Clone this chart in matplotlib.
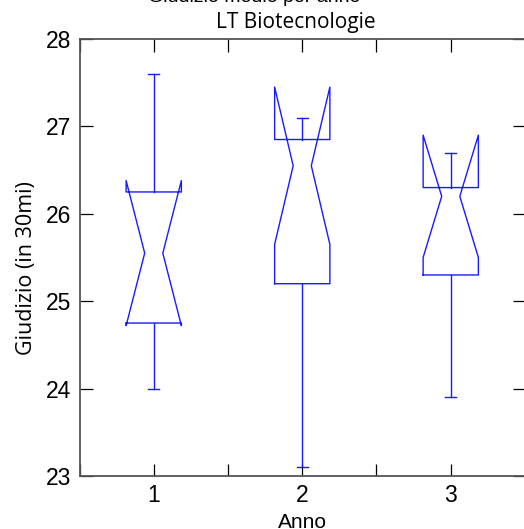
import matplotlib
matplotlib.use("Agg")
import matplotlib.pyplot as plt
from matplotlib.ticker import MultipleLocator

# statistiche dei box
anni = [1, 2, 3]
whislo = [24.0, 23.1, 23.9]
q1 = [24.75, 25.2, 25.3]
cilo = [24.72, 25.65, 25.5]
med = [25.55, 26.55, 26.2]
cihi = [26.38, 27.45, 26.9]
q3 = [26.25, 26.85, 26.3]
whishi = [27.6, 27.1, 26.7]

W = 0.186   # mezza larghezza box
N = 0.061   # mezza larghezza notch
C = 0.038   # mezza larghezza cap
col = "#1a1aff"

fig = plt.figure(figsize=(5.24, 5.29), dpi=100)
ax = fig.add_axes([79.5/524, 1 - 476/529, (525 - 79.5)/524, (476 - 39)/529])

for i, p in enumerate(anni):
    bx = [p-W, p+W, p+W, p+N, p+W, p+W, p-W, p-W, p-N, p-W, p-W]
    by = [q1[i], q1[i], cilo[i], med[i], cihi[i], q3[i], q3[i], cihi[i], med[i], cilo[i], q1[i]]
    ax.plot(bx, by, color=col, lw=1.0)
    ax.plot([p, p], [q3[i], whishi[i]], color=col, lw=1.0)
    ax.plot([p, p], [q1[i], whislo[i]], color=col, lw=1.0)
    ax.plot([p-C, p+C], [whishi[i], whishi[i]], color=col, lw=1.0)
    ax.plot([p-C, p+C], [whislo[i], whislo[i]], color=col, lw=1.0)

ax.set_xlim(0.5, 3.5)
ax.set_ylim(23, 28)
ax.set_xticks(anni)
ax.xaxis.set_minor_locator(MultipleLocator(0.5))
ax.set_yticks([23, 24, 25, 26, 27, 28])
ax.tick_params(which="both", direction="in", top=True, right=True,
               length=12.5 * 72 / 100, width=0.9, color="black", pad=6,
               labelsize=16.5)
for lab in ax.get_xticklabels() + ax.get_yticklabels():
    lab.set_fontfamily("Liberation Sans")
for s in ax.spines.values():
    s.set_color("#555555")
    s.set_linewidth(1.3)

ax.set_title("LT Biotecnologie", fontfamily="Open Sans", fontsize=15, pad=8,
             x=(296 - 79.5) / 445.5)
ax.set_ylabel("Giudizio (in 30mi)", fontfamily="Open Sans", fontsize=15.5)
ax.yaxis.set_label_coords(-0.095, (476 - 268) / 437)
ax.set_xlabel("Anno", fontfamily="Liberation Sans", fontsize=15, labelpad=4)
fig.text(0.485, 1 - 1.8/529, "Giudizio medio per anno", ha="center", va="baseline",
         fontfamily="Liberation Sans", fontsize=14)

fig.savefig("out.png", dpi=100)
